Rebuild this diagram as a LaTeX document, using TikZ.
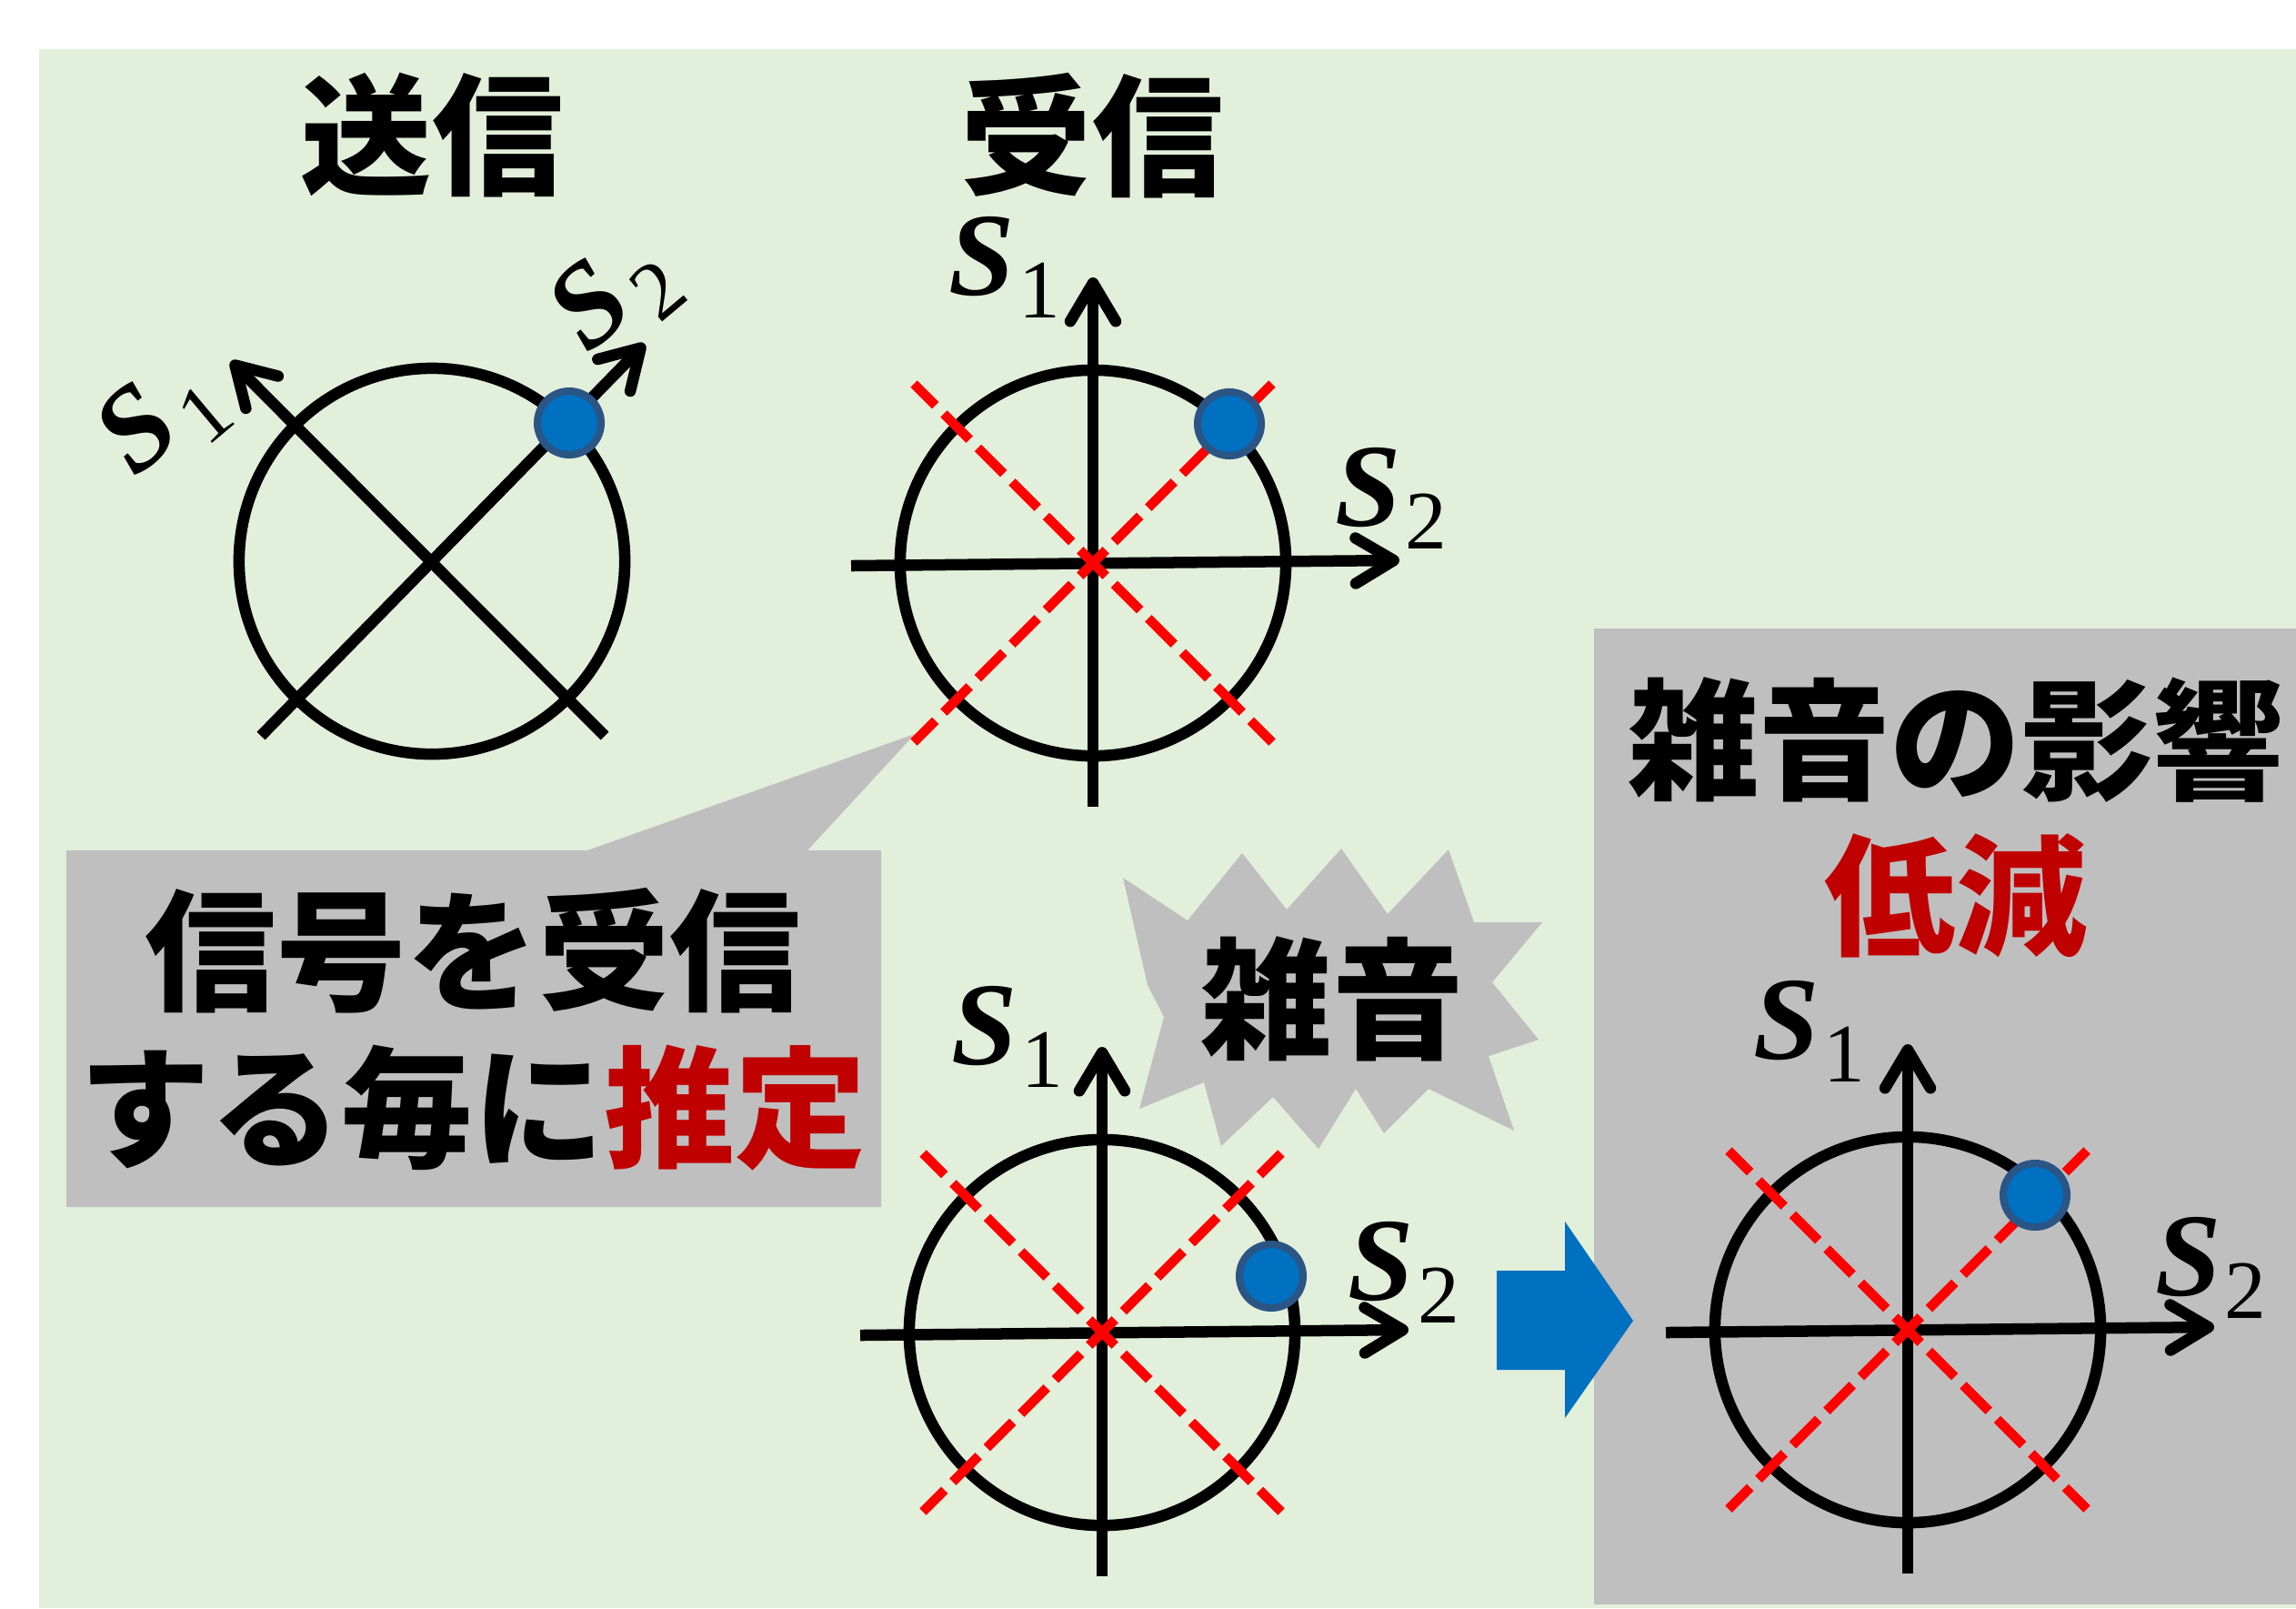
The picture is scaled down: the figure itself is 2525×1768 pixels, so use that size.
\documentclass[tikz,border=0pt]{standalone}
\usepackage{fontspec}
\newfontfamily\jp{Noto Sans CJK JP}
\newfontfamily\lserif{Liberation Serif}
\usetikzlibrary{arrows.meta}
\definecolor{bggreen}{HTML}{E2EFDA}
\definecolor{boxgray}{HTML}{BFBFBF}
\definecolor{dotblue}{HTML}{0070C0}
\definecolor{dotedge}{HTML}{2A5585}
\definecolor{redtxt}{HTML}{C00000}
\definecolor{reddash}{HTML}{FF0000}
\newcommand{\stokes}[2][0.04cm]{{\lserif\bfseries\itshape\fontsize{37pt}{40pt}\selectfont S}\kern#1\raisebox{-0.25cm}{\lserif\fontsize{26pt}{28pt}\selectfont #2}}
\tikzset{
  blk/.style={line width=0.125cm, black},
  axarrow/.style={-{Straight Barb[length=0.42cm,width=0.5cm,round]}},
  reddashline/.style={line width=0.105cm, reddash, dash pattern=on 0.40cm off 0.13cm, dash phase=0.2cm},
  dot/.style={circle, fill=dotblue, draw=dotedge, line width=0.08cm, minimum size=0.70cm, inner sep=0pt},
  slab/.style={inner sep=0pt},
  jptext/.style={inner sep=0pt, font=\jp\bfseries\fontsize{41pt}{49pt}\selectfont},
}
\newcommand{\rxplot}[5]{%
  \begin{scope}[shift={(#2)}]
    \coordinate (#1c) at (0,0);
    \coordinate (#1vb) at (0,268);
    \coordinate (#1vt) at (0,-314);
    \coordinate (#1hl) at (-266,3);
    \coordinate (#1hr) at (337,-3);
    \coordinate (#1d1) at (197,197);
    \coordinate (#1d2) at (-197,-197);
    \coordinate (#1d3) at (197,-197);
    \coordinate (#1d4) at (-197,197);
    \draw[blk] (#1c) circle[radius=2.12cm];
    \draw[blk,axarrow] (#1vb) -- (#1vt);
    \draw[blk,axarrow] (#1hl) -- (#1hr);
    \draw[reddashline] (#1c) -- (#1d1);
    \draw[reddashline] (#1c) -- (#1d2);
    \draw[reddashline] (#1c) -- (#1d3);
    \draw[reddashline] (#1c) -- (#1d4);
    \node[dot] (#1dot) at (#3) {};
    \node[slab] (#1s1) at (#4) {\stokes{1}};
    \node[slab] (#1s2) at (#5) {\stokes{2}};
  \end{scope}}
\begin{document}
\begin{tikzpicture}[x=0.01cm,y=-0.01cm]
\useasboundingbox (0,0) rectangle (2525,1768);
% background panel
\fill[bggreen] (43,54) rectangle (2525,1768);
% callout
\fill[boxgray] (73,935) -- (646,935) -- (1006,807) -- (888,935) -- (969,935)
  -- (969,1327) -- (73,1327) -- cycle;
\node[jptext] (call1) at (520,1045) {信号を受信};
\node[jptext] (call2) at (520,1218) {する毎に\textcolor{redtxt}{推定}};
% titles
\node[jptext] (ttx) at (475,149) {送信};
\node[jptext] (trx) at (1201,149) {受信};
% transmit diagram
\coordinate (tc) at (475,617);
\coordinate (ta1) at (287,809);
\coordinate (tb1) at (709,378);
\coordinate (ta2) at (665,809);
\coordinate (tb2) at (254,397);
\draw[blk] (tc) circle[radius=2.12cm];
\draw[blk,axarrow] (ta1) -- (tb1);
\draw[blk,axarrow] (ta2) -- (tb2);
\node[dot] (tdot) at (626,465) {};
\node[slab,rotate=40] (ts1) at (178,462) {\stokes[0.10cm]{1}};
\node[slab,rotate=40] (ts2) at (676,326) {\stokes[0.10cm]{2}};
% receive diagram
\rxplot{r}{1202,619}{150,-153}{-97,-325}{328,-71}
% noise burst
\fill[boxgray] (1235,965) -- (1306,1012) -- (1366,938) -- (1415,1000) -- (1475,933)
  -- (1526,1005) -- (1593,934) -- (1621,1014) -- (1696,1014) -- (1641,1080)
  -- (1692,1143) -- (1637,1161) -- (1665,1243) -- (1571,1197) -- (1522,1246)
  -- (1491,1197) -- (1450,1263) -- (1400,1206) -- (1343,1260) -- (1324,1190)
  -- (1253,1219) -- (1280,1118) -- (1262,1083) -- cycle;
\node[jptext] (noise) at (1465,1098) {雑音};
% noisy diagram
\rxplot{n}{1212,1465}{186,-62}{-104,-325}{332,-66}
% right panel
\fill[boxgray] (1753,691) rectangle (2525,1764);
\node[jptext] (eff) at (2151,813) {雑音の影響};
\node[jptext,text=redtxt] (red) at (2151,985) {低減};
\rxplot{e}{2098,1462}{140,-148}{-108,-328}{333,-68}
% blue arrow
\fill[dotblue] (1646,1397) -- (1721,1397) -- (1721,1343) -- (1796,1452)
  -- (1721,1559) -- (1721,1506) -- (1646,1506) -- cycle;
\end{tikzpicture}
\end{document}
